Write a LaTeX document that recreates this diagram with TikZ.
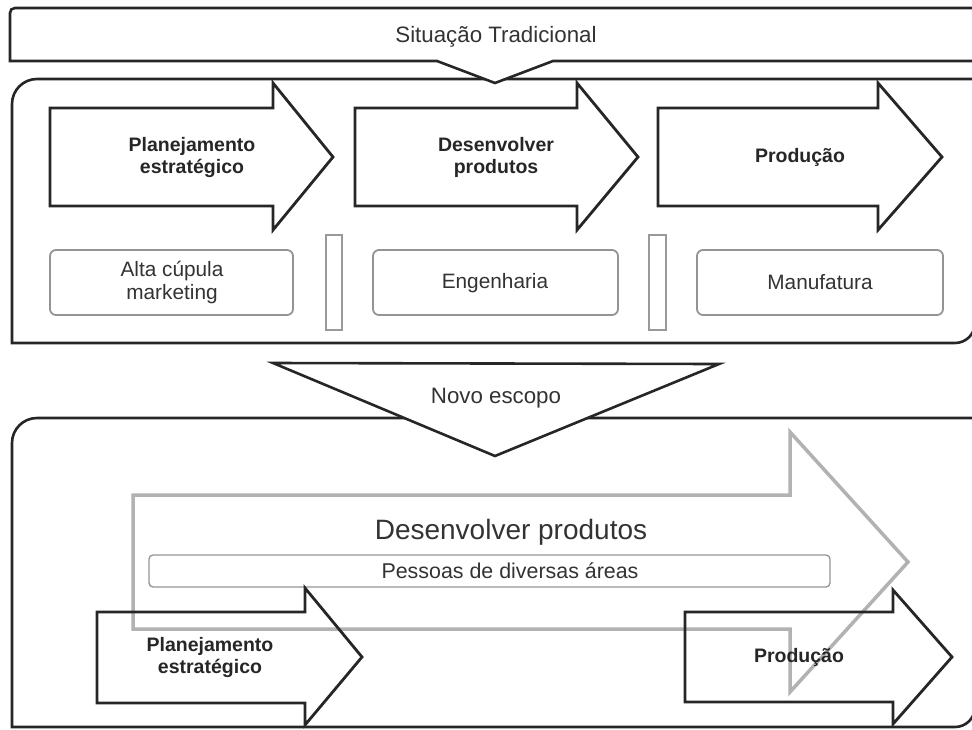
\documentclass[tikz,border=0pt]{standalone}
\usepackage{fontspec}
\setmainfont{Liberation Sans}
\begin{document}
\begin{tikzpicture}[x=1pt,y=-1pt,
  frame/.style={draw=black!85,line width=2.6pt,fill=white,line join=miter},
  blkarrow/.style={draw=black!85,line width=2.8pt,line join=miter,miter limit=10},
  grayarrow/.style={draw=black!30,line width=3.5pt,fill=white,line join=miter,miter limit=10},
  unitbox/.style={draw=black!42,line width=1.8pt,rounded corners=6pt,fill=white,inner sep=0pt},
  sepbox/.style={draw=black!40,line width=1.1pt,fill=white,inner sep=0pt},
  pbox/.style={draw=black!42,line width=1.3pt,rounded corners=4pt,fill=white,inner sep=0pt},
  rlbl/.style={font=\fontsize{20.8}{23}\selectfont,text=black!80,anchor=base,inner sep=0pt},
  blbl/.style={font=\bfseries\fontsize{19.5}{22}\selectfont,text=black!85,align=center,inner sep=0pt},
  ttl/.style={font=\fontsize{22.3}{26}\selectfont,text=black!80,anchor=base,inner sep=0pt}]

\useasboundingbox (0,0) rectangle (972,729);
\clip (0,0) rectangle (972,729);
\fill[white] (0,0) rectangle (972,729);

% ---------- top frame ----------
\draw[frame] (12,343) -- (12,104) .. controls (12,90.2) and (23.2,79) .. (37,79)
  -- (975,79) -- (975,323) .. controls (975,334) and (966,343) .. (955,343) -- cycle;

% banner with pointer
\draw[frame] (985,61) -- (553,61) -- (495,83) -- (437,61) -- (10,61) -- (10,13)
  .. controls (10,10) and (12,8) .. (15,8) -- (985,8);
\node[ttl] (sit) at (496,42) {Situação Tradicional};

% process arrows (top)
\draw[blkarrow] (50,108) -- (273,108) -- (273,83) -- (333,157) -- (273,230) -- (273,206) -- (50,206) -- cycle;
\draw[blkarrow] (355,108) -- (577,108) -- (577,83) -- (638,157) -- (577,230) -- (577,206) -- (355,206) -- cycle;
\draw[blkarrow] (658,108) -- (878,108) -- (878,83) -- (942,157) -- (878,230) -- (878,206) -- (658,206) -- cycle;
\node[blbl] (plan1) at (192,157) {Planejamento\\estratégico};
\node[blbl] (dev1) at (496,157) {Desenvolver\\produtos};
\node[blbl,anchor=base] (prod1) at (800,162) {Produção};

% unit boxes
\node[unitbox,minimum width=243pt,minimum height=65pt] (ub1) at (171.5,282.5) {};
\node[unitbox,minimum width=245pt,minimum height=65pt] (ub2) at (495.5,282.5) {};
\node[unitbox,minimum width=246pt,minimum height=65pt] (ub3) at (820,282.5) {};
\node[rlbl] (alta) at (172,276) {Alta cúpula};
\node[rlbl] (mkt) at (172,299) {marketing};
\node[rlbl] (eng) at (495,288) {Engenharia};
\node[rlbl] (man) at (820,289) {Manufatura};

% separators
\node[sepbox,minimum width=16pt,minimum height=95pt] (sep1) at (334,282.5) {};
\node[sepbox,minimum width=17pt,minimum height=95pt] (sep2) at (657.5,282.5) {};

% ---------- lower frame ----------
\draw[frame] (12,727) -- (12,443) .. controls (12,429.2) and (23.2,418) .. (37,418)
  -- (975,418) -- (975,707) .. controls (975,718) and (966,727) .. (955,727) -- cycle;

% callout
\draw[frame] (273,363) -- (719,364) -- (495,456) -- cycle;
\node[ttl] (novo) at (496,403) {Novo escopo};

% big grey arrow
\draw[grayarrow] (133,495) -- (790,495) -- (790,432) -- (908,562) -- (790,692) -- (790,629) -- (133,629) -- cycle;
\node[font=\fontsize{28}{32}\selectfont,text=black!80,anchor=base,inner sep=0pt] (dev2) at (511,539) {Desenvolver produtos};
\node[pbox,minimum width=681pt,minimum height=32pt] (pb) at (489.5,571) {};
\node[font=\fontsize{21.4}{24}\selectfont,text=black!80,anchor=base,inner sep=0pt] (pess) at (510,578) {Pessoas de diversas áreas};

% lower black arrows
\draw[blkarrow] (97,612) -- (305,612) -- (305,588) -- (362,657) -- (305,725) -- (305,703) -- (97,703) -- cycle;
\draw[blkarrow] (685,612) -- (893,612) -- (893,590) -- (952,657) -- (893,724) -- (893,702) -- (685,702) -- cycle;
\node[blbl] (plan2) at (210,657) {Planejamento\\estratégico};
\node[blbl,anchor=base] (prod2) at (799,662) {Produção};

\end{tikzpicture}
\end{document}
